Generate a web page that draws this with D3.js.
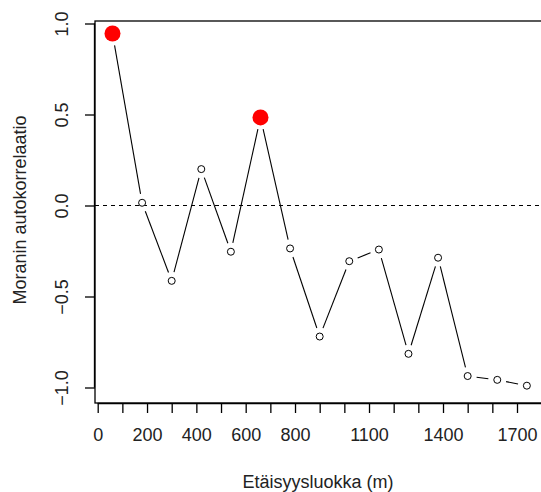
<!DOCTYPE html>
<html>
<head>
<meta charset="utf-8">
<script src="https://cdn.jsdelivr.net/npm/d3@7"></script>
<style>
  body { margin: 0; background: #fff; }
  svg { display: block; font-family: 'Liberation Sans', Arial, sans-serif; }
</style>
</head>
<body>
<svg width="541" height="492"></svg>
<script>
// distance class midpoints (m) and Moran's I
const distances = [60, 180, 300, 420, 540, 660, 780, 900, 1020, 1140, 1260, 1380, 1500, 1620, 1740];
const moranI = [0.945, 0.015, -0.414, 0.2, -0.254, 0.484, -0.236, -0.72, -0.306, -0.242, -0.815, -0.287, -0.937, -0.958, -0.99];
const significant = [true, false, false, false, false, true, false, false, false, false, false, false, false, false, false];

const xTicks = d3.range(0, 1900, 100);
const xTickLabels = ['0', '200', '400', '600', '800', '1100', '1400', '1700'];
const yTicks = [-1, -0.5, 0, 0.5, 1];

const xAxisLabel = 'Etäisyysluokka (m)';
const yAxisLabel = 'Moranin autokorrelaatio';

const svg = d3.select('svg');
const width = +svg.attr('width');
const height = +svg.attr('height');

const box = {left: 95, top: 21, right: 546, bottom: 403};
const fontSize = 18;

const xScale = d3.scaleLinear()
    .domain([0, 1700])
    .range([97.7, 517]);

const yScale = d3.scaleLinear()
    .domain([-1, 1])
    .range([387.5, 23.5]);

const g = svg.append('g');

// plot frame
g.append('rect')
    .attr('x', box.left)
    .attr('y', box.top)
    .attr('width', box.right - box.left)
    .attr('height', box.bottom - box.top)
    .attr('fill', 'none')
    .attr('stroke', '#000')
    .attr('stroke-width', 1.3);

// x axis
const xAxis = d3.axisBottom(xScale)
    .tickValues(xTicks)
    .tickSize(10)
    .tickPadding(15)
    .tickFormat(d => xTickLabels.includes(String(d)) ? String(d) : '');

const xAxisG = g.append('g')
    .attr('transform', `translate(0, ${box.bottom})`)
    .call(xAxis);
xAxisG.select('.domain')
    .attr('d', `M${xScale(0)},0.5H${xScale(1800)}`)
    .attr('stroke-width', 1.3);
xAxisG.selectAll('line').attr('stroke-width', 1.3);
xAxisG.selectAll('text')
    .attr('font-size', fontSize)
    .attr('font-family', "'Liberation Sans', Arial, sans-serif")
    .attr('fill', '#222');

// y axis
const yAxis = d3.axisLeft(yScale)
    .tickValues(yTicks)
    .tickSize(10)
    .tickFormat(d3.format('.1f'));

const yAxisG = g.append('g')
    .attr('transform', `translate(${box.left}, 0)`)
    .call(yAxis);
yAxisG.select('.domain')
    .attr('d', `M-0.5,${yScale(-1)}V${yScale(1)}`)
    .attr('stroke-width', 1.3);
yAxisG.selectAll('line').attr('stroke-width', 1.3);
yAxisG.selectAll('text')
    .attr('font-size', fontSize)
    .attr('font-family', "'Liberation Sans', Arial, sans-serif")
    .attr('fill', '#222')
    .attr('x', null)
    .attr('dy', null)
    .attr('text-anchor', 'middle')
    .attr('transform', 'translate(-27, 0) rotate(-90)')
    .attr('y', 0);

// axis titles
g.append('text')
    .attr('x', (box.left + 541) / 2)
    .attr('y', 488)
    .attr('text-anchor', 'middle')
    .attr('font-size', fontSize)
    .attr('fill', '#222')
    .text(xAxisLabel);

g.append('text')
    .attr('transform', `translate(26, ${(box.top + box.bottom) / 2 - 2}) rotate(-90)`)
    .attr('text-anchor', 'middle')
    .attr('font-size', fontSize)
    .attr('fill', '#222')
    .text(yAxisLabel);

// reference line at zero
g.append('line')
    .attr('x1', box.left)
    .attr('x2', box.right)
    .attr('y1', yScale(0))
    .attr('y2', yScale(0))
    .attr('stroke', '#000')
    .attr('stroke-width', 1.1)
    .attr('stroke-dasharray', '4,4');

// type="b": segments with a gap around each point
const data = distances.map((d, i) => ({x: d, y: moranI[i], sig: significant[i]}));
const gap = 9;
const segs = d3.pairs(data).map(([a, b]) => {
    const x1 = xScale(a.x), y1 = yScale(a.y);
    const x2 = xScale(b.x), y2 = yScale(b.y);
    const len = Math.hypot(x2 - x1, y2 - y1);
    const ux = (x2 - x1) / len, uy = (y2 - y1) / len;
    const g1 = a.sig ? gap + 3 : gap;
    const g2 = b.sig ? gap + 3 : gap;
    return {x1: x1 + ux * g1, y1: y1 + uy * g1, x2: x2 - ux * g2, y2: y2 - uy * g2, ok: len > g1 + g2};
}).filter(s => s.ok);

g.selectAll('.seg').data(segs)
    .enter().append('line')
        .attr('class', 'seg')
        .attr('x1', d => d.x1)
        .attr('y1', d => d.y1)
        .attr('x2', d => d.x2)
        .attr('y2', d => d.y2)
        .attr('stroke', '#000')
        .attr('stroke-width', 1.1);

g.selectAll('circle').data(data)
    .enter().append('circle')
        .attr('cx', d => xScale(d.x))
        .attr('cy', d => yScale(d.y))
        .attr('r', d => d.sig ? 8 : 3.5)
        .attr('fill', d => d.sig ? '#ff0000' : '#fff')
        .attr('stroke', d => d.sig ? 'none' : '#000')
        .attr('stroke-width', 1);
</script>
</body>
</html>
